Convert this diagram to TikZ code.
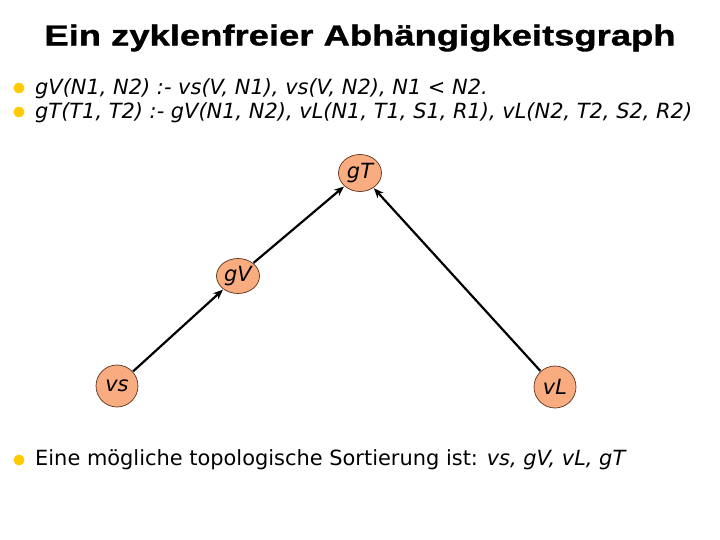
\documentclass[tikz,border=0pt]{standalone}
\usepackage{fontspec}
\setmainfont{DejaVu Sans}
\newfontfamily\titlefont{Liberation Sans}[FakeStretch=1.26,FakeBold=1.2]
\usetikzlibrary{shapes.geometric,arrows.meta}
\definecolor{nodefill}{RGB}{249,172,128}
\definecolor{nodeedge}{RGB}{90,50,30}
\definecolor{bulletcol}{RGB}{255,202,0}
\tikzset{
  gnode/.style={ellipse,draw=nodeedge,line width=0.7pt,fill=nodefill,inner sep=0pt,font=\fontsize{21}{25}\selectfont\itshape},
  dep/.style={line width=2.2pt,-{Stealth[length=10pt,width=8pt]},shorten >=0.5pt,shorten <=0.5pt},
  bul/.style={circle,fill=bulletcol,inner sep=0pt,minimum size=11pt},
  txt/.style={anchor=west,inner sep=0pt,font=\fontsize{21}{25}\selectfont}
}
\begin{document}
\begin{tikzpicture}[x=1bp,y=-1bp]
\useasboundingbox (0,0) rectangle (720,540);
\node[font=\titlefont\bfseries\fontsize{29}{34}\selectfont] (title) at (360,38) {Ein zyklenfreier Abhängigkeitsgraph};
\node[bul] (b1) at (19,88) {};
\node[txt] (t1) at (35,89) {\itshape gV(N1, N2) :- vs(V, N1), vs(V, N2), N1 < N2.};
\node[bul] (b2) at (19,112) {};
\node[txt] (t2) at (35,113) {\itshape gT(T1, T2) :- gV(N1, N2), vL(N1, T1, S1, R1), vL(N2, T2, S2, R2)};
\node[gnode,minimum width=43bp,minimum height=37bp] (gT) at (360,173) {gT};
\node[gnode,minimum width=43bp,minimum height=35bp] (gV) at (238,276) {gV};
\node[gnode,minimum width=42bp,minimum height=42bp] (vs) at (117,386) {vs};
\node[gnode,minimum width=42bp,minimum height=42bp] (vL) at (555,387) {vL};
\draw[dep] (vs) -- (gV);
\draw[dep] (gV) -- (gT);
\draw[dep] (vL) -- (gT);
\node[bul] (b3) at (19,460) {};
\node[txt] (t3) at (35,460) {Eine mögliche topologische Sortierung ist: \itshape vs, gV, vL, gT};
\end{tikzpicture}
\end{document}
